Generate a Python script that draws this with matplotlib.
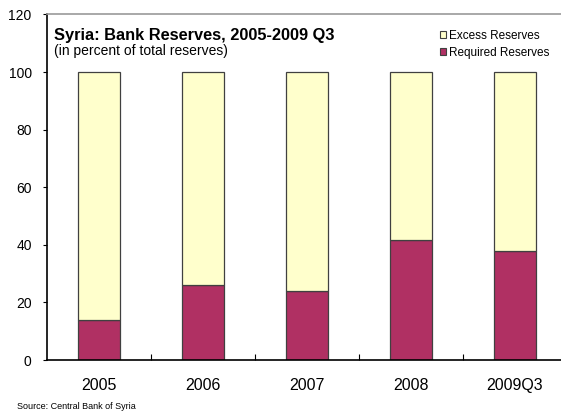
import numpy as np
import matplotlib.pyplot as plt
from matplotlib.patches import Patch

plt.rcParams['font.family'] = ['Liberation Sans', 'DejaVu Sans']

# share of total reserves, percent
periods = ['2005', '2006', '2007', '2008', '2009Q3']
required = [14.0, 26.0, 24.0, 41.5, 38.0]
excess = [100 - r for r in required]

REQ_COLOR = '#B03063'
EXC_COLOR = '#FFFFCC'
EDGE = '#404040'

fig = plt.figure(figsize=(5.61, 4.13), dpi=100)
ax = fig.add_axes([0.0838, 0.1283, 0.9269, 0.8368])

x = np.arange(len(periods)) + 0.5
ax.bar(x, required, width=0.41, color=REQ_COLOR, edgecolor=EDGE, linewidth=0.9)
ax.bar(x, excess, bottom=required, width=0.41, color=EXC_COLOR, edgecolor=EDGE, linewidth=0.9)

ax.set_xlim(0, len(periods))
ax.set_ylim(0, 120)
ax.set_yticks(np.arange(0, 121, 20))
ax.set_xticks(np.arange(1, len(periods)))
ax.set_xticklabels([])
ax.set_xticks(x, minor=True)
ax.set_xticklabels(periods, minor=True)
ax.tick_params(axis='x', which='major', direction='in', length=4, width=0.8)
ax.tick_params(axis='x', which='minor', length=0, labelsize=11.5, pad=13)
ax.tick_params(axis='y', direction='out', length=3, width=0.8, labelsize=10, pad=8)

for side in ['left', 'bottom']:
    ax.spines[side].set_color('black')
    ax.spines[side].set_linewidth(1.2)
ax.spines['top'].set_color('#999999')
ax.spines['top'].set_linewidth(1.2)
ax.spines['right'].set_visible(False)

ax.text(0.013, 0.94, 'Syria: Bank Reserves, 2005-2009 Q3', transform=ax.transAxes,
        fontsize=11.75, fontweight='bold', va='center', ha='left')
ax.text(0.013, 0.893, '(in percent of total reserves)', transform=ax.transAxes,
        fontsize=10, va='center', ha='left')

handles = [Patch(facecolor=EXC_COLOR, edgecolor=EDGE, linewidth=0.8, label='Excess Reserves'),
           Patch(facecolor=REQ_COLOR, edgecolor=EDGE, linewidth=0.8, label='Required Reserves')]
ax.legend(handles=handles, loc='upper left', bbox_to_anchor=(0.746, 0.97), frameon=False,
          fontsize=8.5, handlelength=0.5, handleheight=0.5, handletextpad=0.3,
          labelspacing=0.45, borderaxespad=0)

fig.text(0.03, 0.004, 'Source: Central Bank of Syria', fontsize=6.5, ha='left', va='bottom')

plt.savefig('out.png', dpi=100)
